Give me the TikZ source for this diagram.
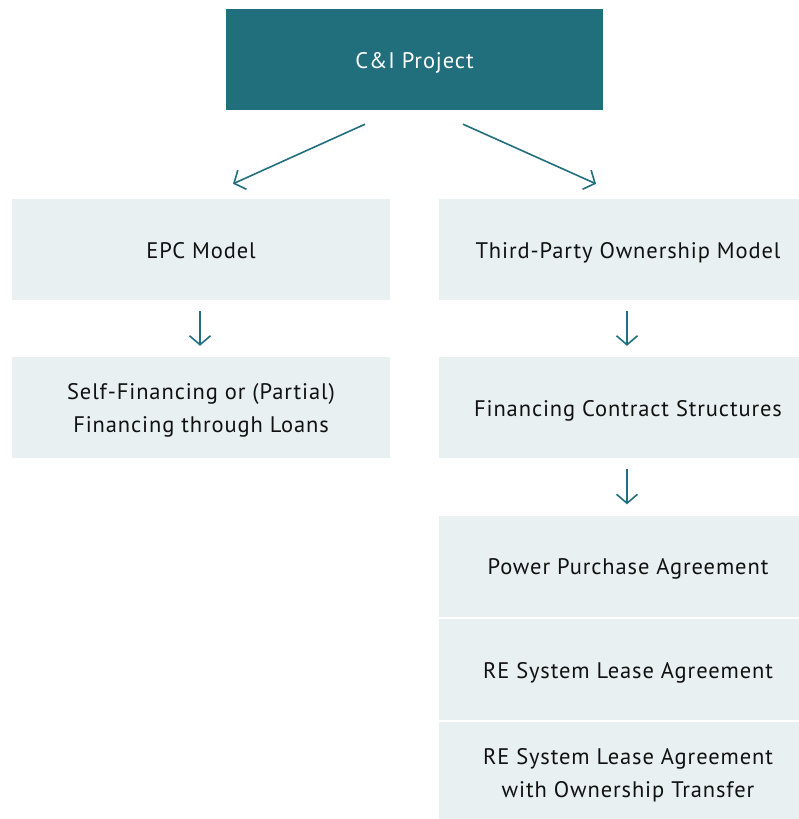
\documentclass[tikz,border=0pt]{standalone}
\usepackage{fontspec}
\setmainfont{PT Sans}[LetterSpace=4]
\usetikzlibrary{arrows.meta}
\definecolor{teal}{HTML}{216E7C}
\definecolor{paleblue}{HTML}{E9F0F2}
\definecolor{ink}{HTML}{111111}
% fixed strut heights so every label is centred on its caps
\newcommand{\topstrut}{\rule{0pt}{22pt}}
\newcommand{\botstrut}{\rule[-5pt]{0pt}{0pt}}
\tikzset{
  x=1pt, y=-1pt,
  labeltext/.style={inner sep=0pt, align=center,
    font=\fontsize{22.5}{33}\selectfont},
  box/.style={labeltext, fill=paleblue, draw=none, minimum width=378pt,
    minimum height=101pt, text=ink},
  topbox/.style={labeltext, fill=teal, draw=none, minimum width=377pt,
    minimum height=101pt, text=white},
  arr/.style={draw=teal, line width=1.6pt,
    -{Straight Barb[length=9pt,width=21pt,line width=1.6pt]}},
}
\begin{document}
\begin{tikzpicture}
\useasboundingbox (0,0) rectangle (799,819);
\clip (0,0) rectangle (799,819);

% root
\node[topbox] (top) at (414.5,59.5) {\topstrut C\&I Project\botstrut};

% left column: EPC
\node[box] (epc) at (201,249.5) {\topstrut EPC Model\botstrut};
\node[box] (selffin) at (201,407.5)
  {\topstrut Self-Financing or (Partial)\\Financing through Loans\botstrut};

% right column: third-party ownership
\node[box] (tpo) at (628,249.5) {\topstrut Third-Party Ownership Model\botstrut};
\node[box] (fcs) at (628,407.5) {\topstrut Financing Contract Structures\botstrut};
\node[box] (ppa) at (628,566) {\topstrut Power Purchase Agreement\botstrut};
\node[box] (lease) at (628,669.5) {\topstrut RE System Lease Agreement\botstrut};
\node[box] (leaseot) at (628,772)
  {\topstrut RE System Lease Agreement\\with Ownership Transfer\botstrut};

% connectors
\draw[arr] ([xshift=-49.5pt,yshift=-14pt]top.south) -- ([xshift=32pt,yshift=15pt]epc.north);
\draw[arr] ([xshift=48.5pt,yshift=-14pt]top.south) -- ([xshift=-32pt,yshift=15pt]tpo.north);
\draw[arr] ([xshift=-1pt,yshift=-11pt]epc.south) -- ([xshift=-1pt,yshift=11pt]selffin.north);
\draw[arr] ([xshift=-1pt,yshift=-11pt]tpo.south) -- ([xshift=-1pt,yshift=11pt]fcs.north);
\draw[arr] ([xshift=-1pt,yshift=-11pt]fcs.south) -- ([xshift=-1pt,yshift=11pt]ppa.north);
\end{tikzpicture}
\end{document}
